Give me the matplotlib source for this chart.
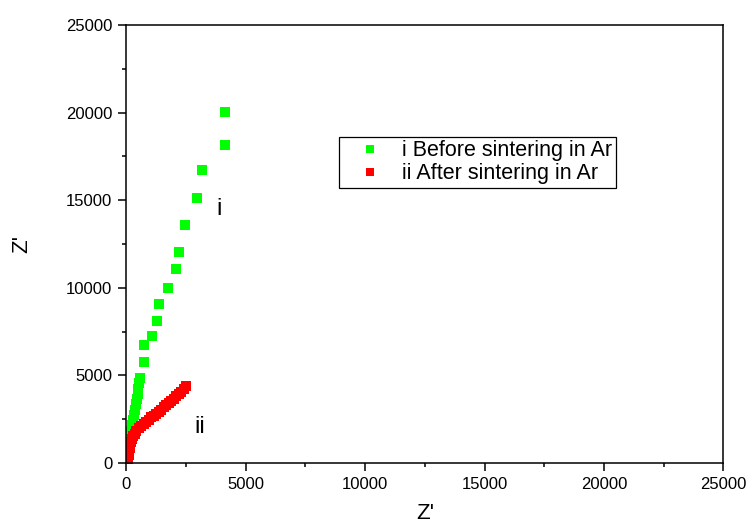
import matplotlib
matplotlib.use("Agg")
import matplotlib.pyplot as plt
from matplotlib.ticker import MultipleLocator

plt.rcParams['font.family'] = ['Liberation Sans', 'DejaVu Sans']

# Series i: before sintering in Ar (Z', Z'')
before_x = [4150, 4140, 3160, 2950, 2465, 2200, 2075, 1740, 1375, 1290, 1080, 760, 760,
            600, 560, 520, 480, 440, 400, 360, 320, 280, 240, 200, 160, 120, 80, 40, 10]
before_y = [20050, 18150, 16700, 15100, 13600, 12070, 11060, 9980, 9070, 8110, 7250, 6740, 5760,
            4850, 4550, 4250, 3950, 3650, 3350, 3050, 2750, 2450, 2150, 1850, 1550, 1300, 1050, 800, 500]

# Series ii: after sintering in Ar
after_x = [2520, 2410, 2310, 2200, 2100, 1995, 1890, 1785, 1680, 1575, 1470, 1365, 1265, 1160,
           1055, 950, 845, 740, 635, 530, 425, 355, 290, 250, 215, 180, 145, 130, 120, 100, 80, 60]
after_y = [4375, 4210, 4050, 3925, 3800, 3670, 3540, 3420, 3300, 3175, 3050, 2935, 2820, 2710,
           2600, 2475, 2350, 2235, 2120, 1980, 1835, 1680, 1530, 1370, 1210, 1020, 840, 640, 450, 300, 170, 40]

legend_labels = ["i Before sintering in Ar", "ii After sintering in Ar"]
xlabel = "Z'"
ylabel = "Z'"

fig = plt.figure(figsize=(7.52, 5.29), dpi=100)
ax = fig.add_axes([0.1676, 0.1248, 0.7945, 0.828])

ax.plot(before_x, before_y, linestyle='none', marker='s', markersize=7,
        color='#00ff00', markeredgewidth=0, label=legend_labels[0])
ax.plot(after_x, after_y, linestyle='none', marker='s', markersize=7.5,
        color='#ff0000', markeredgewidth=0, label=legend_labels[1])

ax.set_xlim(0, 25000)
ax.set_ylim(0, 25000)
for a in (ax.xaxis, ax.yaxis):
    a.set_major_locator(MultipleLocator(5000))
    a.set_minor_locator(MultipleLocator(2500))

for s in ax.spines.values():
    s.set_linewidth(1.1)

ax.tick_params(axis='both', which='major', direction='out', length=6, width=1.1,
               labelsize=12, pad=4)
ax.tick_params(axis='both', which='minor', direction='out', length=3, width=1.1)
ax.tick_params(which='both', top=False, right=False)

ax.text(3875, 14500, 'i', fontsize=17, ha='center', va='center')
ax.text(3080, 2045, 'ii', fontsize=17, ha='center', va='center')

ax.set_xlabel(xlabel, fontsize=16, labelpad=8)
ax.set_ylabel(ylabel, fontsize=16, labelpad=24)

leg = ax.legend(loc='upper left', bbox_to_anchor=(0.356, 0.744), fontsize=15.5,
                frameon=True, fancybox=False, edgecolor='black', framealpha=1,
                handlelength=2.6, handletextpad=0.2, borderpad=0.15, labelspacing=0.1,
                markerscale=0.85, borderaxespad=0)
leg.get_frame().set_linewidth(0.9)

fig.savefig('out.png', dpi=100)
